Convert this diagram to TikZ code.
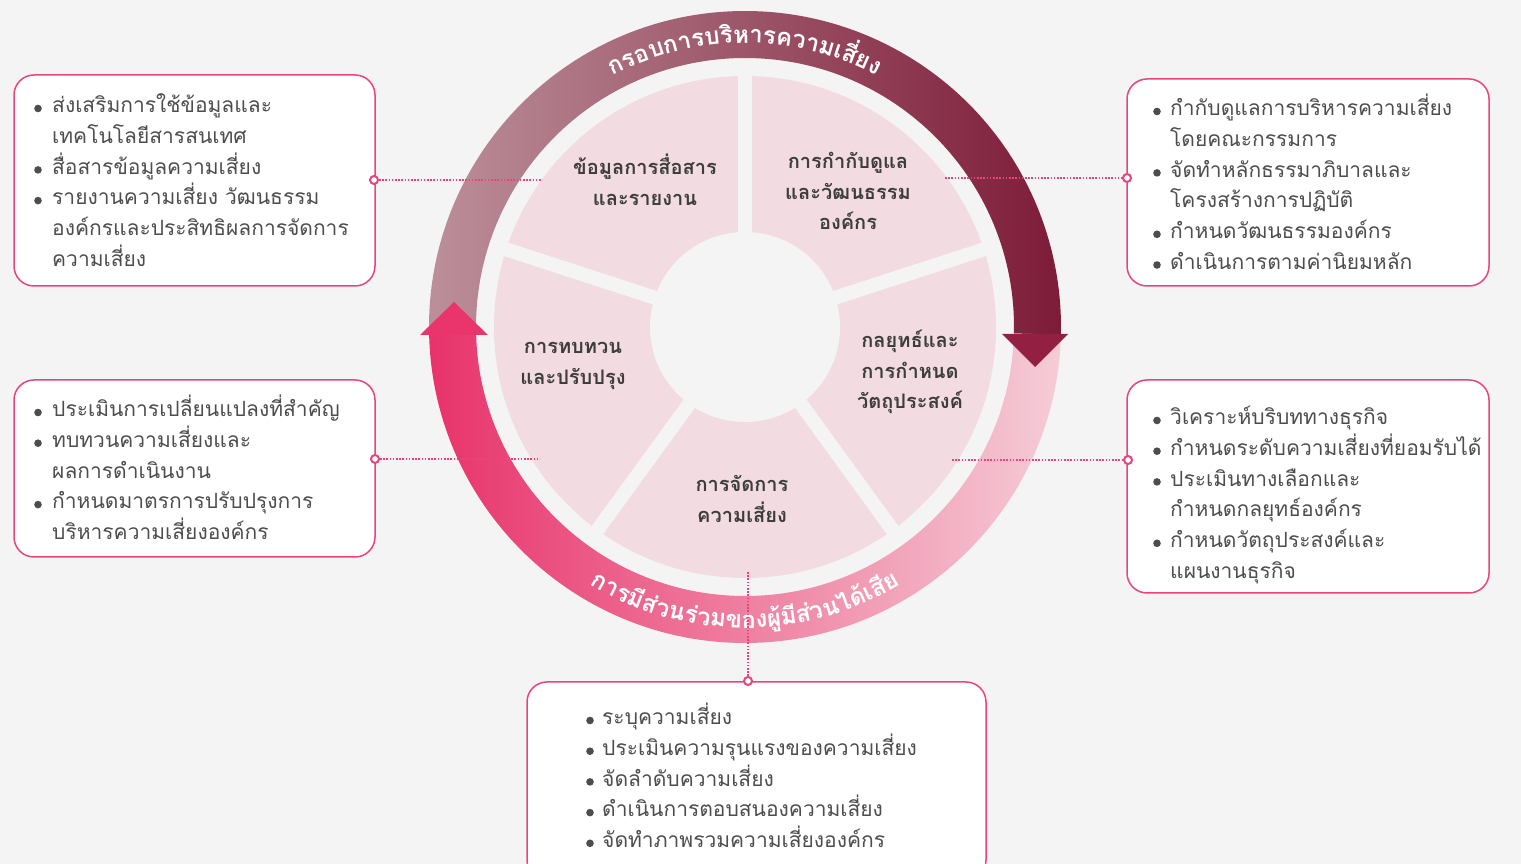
\documentclass[tikz,border=0pt]{standalone}
\usepackage{fontspec}
\newfontfamily\thai[Script=Thai]{Loma}
\usetikzlibrary{calc}
\definecolor{bgc}{HTML}{F4F4F4}
\definecolor{sect}{HTML}{F2DCE1}
\definecolor{secttxt}{HTML}{3D3D3D}
\definecolor{txt}{HTML}{4D4D4D}
\definecolor{topL}{HTML}{BC909B}
\definecolor{topR}{HTML}{7D1B38}
\definecolor{botL}{HTML}{E8336B}
\definecolor{botR}{HTML}{F5CCD7}
\definecolor{upc}{HTML}{EA356C}
\definecolor{downc}{HTML}{931F42}
\definecolor{pinkline}{HTML}{E8457A}
\newdimen\totw
\newdimen\accw
\newdimen\clw
\newcommand\ringfont{\thai\bfseries\fontsize{24}{24}\selectfont}
% measure clusters outside the picture: #1 name, #2 clusters
\newcommand\measureclusters[2]{%
  \global\totw=0pt
  \foreach \cl [count=\k] in {#2}{%
    \setbox0=\hbox{\ringfont\cl}\clw=\wd0
    \ifdim\clw<1pt \clw=13pt\fi
    \expandafter\xdef\csname w#1\k\endcsname{\the\clw}%
    \global\advance\totw by \clw}%
  \expandafter\xdef\csname tot#1\endcsname{\the\totw}}
% #1 radius, #2 centre angle, #3 direction (-1 top, +1 bottom), #4 name, #5 arc length, #6 clusters
\newcommand\arcword[6]{%
  \pgfmathsetmacro\sf{#5/\csname tot#4\endcsname}%
  \global\accw=0pt
  \foreach \cl [count=\k] in {#6}{%
    \edef\wk{\csname w#4\k\endcsname}%
    \pgfmathsetmacro\ang{#2+(#3)*\sf*(\the\accw+0.5*\wk-0.5*\csname tot#4\endcsname)/(#1)*180/pi}%
    \pgfmathsetmacro\rot{\ang+(#3)*90}%
    \node[ringtxt, scale=\sf, rotate=\rot, anchor=base, name=#4\k] at (\ang:#1) {\cl};
    \global\advance\accw by \wk
  }%
}
% #1 name, #2 x bullet, #3 x text, #4 image y of first line, #5 list flag/text
\newcommand\boxlist[5]{%
  \foreach \isb/\ltxt [count=\k from 0] in {#5}{%
    \pgfmathsetmacro\yy{864-(#4)-\k*30.7}%
    \node[boxtxt, anchor=mid west, name=#1\k] at (#3,\yy) {\ltxt};
    \ifnum\isb=1 \fill[txt] (#2,\yy+2) circle (3.8); \fi
  }%
}
\tikzset{
  ringtxt/.style={font=\ringfont, text=white, inner sep=0pt},
  secttxt/.style={font=\thai\bfseries\fontsize{20}{30.5}\selectfont, text=secttxt, align=center, inner sep=0pt},
  boxtxt/.style={font=\thai\fontsize{21}{30.7}\selectfont, text=txt, inner sep=0pt},
  infobox/.style={draw=pinkline, line width=1.5pt, fill=white, rounded corners=20pt, inner sep=0pt},
  conn/.style={draw=pinkline, line width=1.6pt, dash pattern=on 1.6pt off 1.6pt},
  marker/.style={circle, draw=pinkline, fill=white, line width=2pt, minimum size=8pt, inner sep=0pt},
}
\begin{document}
\measureclusters{tt}{ก,ร,อ,บ,ก,า,ร,บ,ริ,ห,า,ร,ค,ว,า,ม,เ,สี่,ย,ง}%
\measureclusters{bt}{ก,า,ร,มี,ส่,ว,น,ร่,ว,ม,ข,อ,ง,ผู้,มี,ส่,ว,น,ไ,ด้,เ,สี,ย}%
\begin{tikzpicture}[x=1pt,y=1pt]
\useasboundingbox (0,0) rectangle (1521,864);
\fill[bgc] (0,0) rectangle (1521,864);
\begin{scope}[shift={(745,537)}]
  % ring halves
  \shade[left color=topL, right color=topR]
    (181.4:316) arc[start angle=181.4, end angle=-1.4, radius=316]
    -- (-1.4:269) arc[start angle=-1.4, end angle=181.4, radius=269] -- cycle;
  \shade[left color=botL, right color=botR]
    (181.4:316) arc[start angle=181.4, end angle=358.6, radius=316]
    -- (358.6:269) arc[start angle=358.6, end angle=181.4, radius=269] -- cycle;
  % arrow heads
  \fill[upc] (-325,-8) -- (-257,-8) -- (-291,25) -- cycle;
  \fill[downc] (257,-7) -- (323,-7) -- (290,-40) -- cycle;
  % ring labels
  \arcword{284}{90}{-1}{tt}{275}{ก,ร,อ,บ,ก,า,ร,บ,ริ,ห,า,ร,ค,ว,า,ม,เ,สี่,ย,ง}
  \arcword{301}{270}{1}{bt}{327}{ก,า,ร,มี,ส่,ว,น,ร่,ว,ม,ข,อ,ง,ผู้,มี,ส่,ว,น,ไ,ด้,เ,สี,ย}
  % pie
  \fill[sect] (0,0) circle (251);
  \foreach \a in {18,90,162,234,306} \draw[bgc, line width=14pt] (0,0) -- (\a:262);
  \fill[bgc] (0,0) circle (95);
\end{scope}
% sector labels
\node[secttxt] (sTL) at (645,684) {ข้อมูลการสื่อสาร\\และรายงาน};
\node[secttxt] (sTR) at (848,673) {การกำกับดูแล\\และวัฒนธรรม\\องค์กร};
\node[secttxt] (sR) at (910,492) {กลยุทธ์และ\\การกำหนด\\วัตถุประสงค์};
\node[secttxt] (sB) at (742,365) {การจัดการ\\ความเสี่ยง};
\node[secttxt] (sL) at (573,498) {การทบทวน\\และปรับปรุง};
% boxes
\node[infobox, minimum width=361pt, minimum height=211pt] (boxLT) at (194.5,683.5) {};
\node[infobox, minimum width=362pt, minimum height=207pt] (boxRT) at (1308,681.5) {};
\node[infobox, minimum width=361pt, minimum height=177pt] (boxLB) at (194.5,395.5) {};
\node[infobox, minimum width=362pt, minimum height=213pt] (boxRB) at (1308,377.5) {};
\node[infobox, minimum width=459pt, minimum height=198pt] (boxB) at (756.5,83) {};
% connector ends
\coordinate (eLT) at (541,684);
\coordinate (eRT) at (945,686);
\coordinate (eLB) at (540,405);
\coordinate (eRB) at (952,404);
\coordinate (eB) at (748,292);
\node[marker] (mLT) at (374,684) {};
\node[marker] (mRT) at (1127,686) {};
\node[marker] (mLB) at (375,405) {};
\node[marker] (mRB) at (1128,404) {};
\node[marker] (mB) at (748,183) {};
\draw[conn] (mLT) -- (eLT);
\draw[conn] (eRT) -- (mRT);
\draw[conn] (mLB) -- (eLB);
\draw[conn] (eRB) -- (mRB);
\draw[conn] (eB) -- (mB);
% box texts
\boxlist{tLT}{38}{52}{110.5}{1/ส่งเสริมการใช้ข้อมูลและ, 0/เทคโนโลยีสารสนเทศ, 1/สื่อสารข้อมูลความเสี่ยง, 1/รายงานความเสี่ยง วัฒนธรรม, 0/องค์กรและประสิทธิผลการจัดการ, 0/ความเสี่ยง}
\boxlist{tRT}{1157}{1170}{113.5}{1/กำกับดูแลการบริหารความเสี่ยง, 0/โดยคณะกรรมการ, 1/จัดทำหลักธรรมาภิบาลและ, 0/โครงสร้างการปฏิบัติ, 1/กำหนดวัฒนธรรมองค์กร, 1/ดำเนินการตามค่านิยมหลัก}
\boxlist{tLB}{38}{52}{414.5}{1/ประเมินการเปลี่ยนแปลงที่สำคัญ, 1/ทบทวนความเสี่ยงและ, 0/ผลการดำเนินงาน, 1/กำหนดมาตรการปรับปรุงการ, 0/บริหารความเสี่ยงองค์กร}
\boxlist{tRB}{1157}{1170}{422.5}{1/วิเคราะห์บริบททางธุรกิจ, 1/กำหนดระดับความเสี่ยงที่ยอมรับได้, 1/ประเมินทางเลือกและ, 0/กำหนดกลยุทธ์องค์กร, 1/กำหนดวัตถุประสงค์และ, 0/แผนงานธุรกิจ}
\boxlist{tB}{590}{602}{722.5}{1/ระบุความเสี่ยง, 1/ประเมินความรุนแรงของความเสี่ยง, 1/จัดลำดับความเสี่ยง, 1/ดำเนินการตอบสนองความเสี่ยง, 1/จัดทำภาพรวมความเสี่ยงองค์กร}
\end{tikzpicture}
\end{document}
